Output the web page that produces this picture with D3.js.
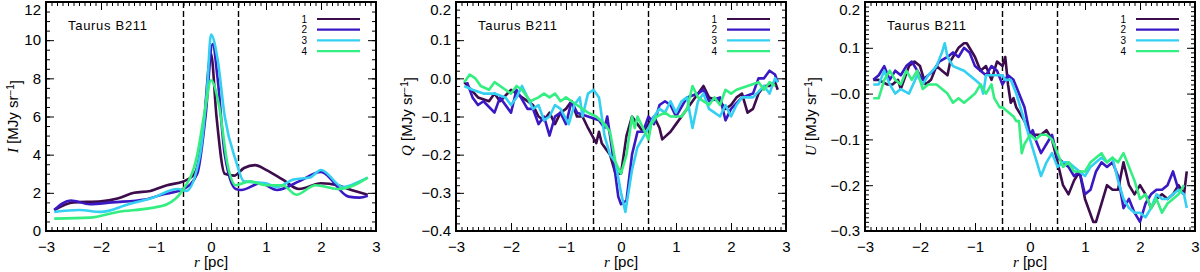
<!DOCTYPE html>
<html>
<head>
<meta charset="utf-8">
<script src="https://cdn.jsdelivr.net/npm/d3@7"></script>
<style>
  body { margin: 0; background: #fff; }
  svg { display: block; }
</style>
</head>
<body>
<div id="chart"></div>
<script>
// Canvas size
var width = 1200;
var height = 272;

// Series colours and names (legend)
var seriesNames = ["1", "2", "3", "4"];
var seriesColors = ["#3d0c4c", "#3a18c4", "#33d0f2", "#33ee80"];

// Regions of the filament crest
var crestLines = [-0.5, 0.5];

// Intensity I, [r, value] pairs
var iSeries1 = [[-2.85,1.1],[-2.5,1.5],[-2.0,1.55],[-1.7,1.7],[-1.4,2.0],[-1.1,2.1],[-0.8,2.4],[-0.5,2.6],[-0.3,3.0],[-0.15,5.0],[0.0,9.3],[0.1,6.0],[0.25,3.0],[0.42,2.9],[0.6,3.3],[0.8,3.45],[1.0,3.2],[1.3,2.7],[1.6,2.2],[2.0,2.5],[2.3,2.4],[2.5,2.2],[2.85,1.9]];
var iSeries2 = [[-2.85,1.1],[-2.55,1.6],[-2.2,1.4],[-1.8,1.5],[-1.2,1.65],[-0.9,1.9],[-0.5,2.2],[-0.25,3.0],[-0.1,6.0],[0.03,9.8],[0.12,8.0],[0.25,4.0],[0.45,2.2],[0.55,2.15],[0.9,2.5],[1.2,2.15],[1.6,2.6],[2.0,3.1],[2.5,1.8],[2.7,1.75],[2.85,1.85]];
var iSeries3 = [[-2.85,1.0],[-2.4,1.1],[-2.0,1.0],[-1.5,1.4],[-1.1,1.7],[-0.6,2.2],[-0.45,2.1],[-0.2,4.0],[-0.07,7.5],[0.0,10.3],[0.12,9.0],[0.25,6.0],[0.45,3.7],[0.6,2.6],[1.0,2.5],[1.2,2.3],[1.5,2.7],[1.8,2.8],[2.0,3.2],[2.4,2.3],[2.7,2.6],[2.85,2.8]];
var iSeries4 = [[-2.85,0.65],[-2.2,0.7],[-1.7,1.0],[-1.1,1.2],[-0.8,1.4],[-0.55,2.0],[-0.25,4.0],[-0.1,6.5],[0.0,7.9],[0.15,6.5],[0.3,3.5],[0.45,2.4],[0.7,2.6],[1.0,2.4],[1.3,2.4],[1.55,1.9],[1.9,2.4],[2.3,2.2],[2.6,2.4],[2.85,2.8]];

// Stokes Q
var qSeries1 = [[-2.85,-0.01],[-2.6,-0.05],[-2.4,-0.06],[-2.3,-0.04],[-2.2,-0.06],[-2.0,-0.03],[-1.8,-0.05],[-1.6,-0.07],[-1.5,-0.1],[-1.4,-0.11],[-1.3,-0.09],[-1.2,-0.12],[-1.1,-0.09],[-1.0,-0.08],[-0.9,-0.06],[-0.8,-0.1],[-0.7,-0.1],[-0.6,-0.13],[-0.45,-0.17],[-0.4,-0.14],[-0.35,-0.17],[-0.2,-0.2],[-0.1,-0.25],[0.0,-0.25],[0.1,-0.15],[0.2,-0.1],[0.3,-0.12],[0.4,-0.14],[0.5,-0.12],[0.6,-0.1],[0.7,-0.13],[0.75,-0.16],[0.9,-0.14],[1.0,-0.12],[1.1,-0.1],[1.3,-0.06],[1.5,-0.02],[1.6,-0.05],[1.8,-0.06],[1.9,-0.08],[2.0,-0.07],[2.1,-0.05],[2.2,-0.04],[2.3,-0.09],[2.4,-0.08],[2.5,-0.04],[2.6,-0.02],[2.7,-0.02],[2.8,-0.01],[2.85,-0.03]];
var qSeries2 = [[-2.8,-0.01],[-2.7,-0.05],[-2.6,-0.07],[-2.5,-0.06],[-2.3,-0.09],[-2.2,-0.05],[-2.0,-0.09],[-1.9,-0.03],[-1.7,-0.08],[-1.6,-0.08],[-1.5,-0.12],[-1.4,-0.1],[-1.3,-0.15],[-1.2,-0.1],[-1.1,-0.09],[-1.0,-0.12],[-0.9,-0.06],[-0.8,-0.09],[-0.6,-0.1],[-0.4,-0.11],[-0.3,-0.13],[-0.25,-0.1],[-0.15,-0.2],[-0.05,-0.31],[0.0,-0.33],[0.1,-0.32],[0.2,-0.2],[0.3,-0.14],[0.4,-0.14],[0.5,-0.1],[0.6,-0.12],[0.7,-0.07],[0.8,-0.06],[0.9,-0.07],[1.0,-0.1],[1.2,-0.05],[1.4,-0.04],[1.5,-0.03],[1.6,-0.06],[1.8,-0.05],[1.9,-0.11],[2.0,-0.08],[2.2,-0.05],[2.4,-0.04],[2.5,0.0],[2.6,0.0],[2.7,0.02],[2.8,0.01],[2.85,-0.01]];
var qSeries3 = [[-2.85,-0.02],[-2.7,-0.03],[-2.5,-0.04],[-2.3,-0.04],[-2.1,-0.05],[-2.0,-0.07],[-1.9,-0.05],[-1.8,-0.02],[-1.6,-0.08],[-1.5,-0.07],[-1.4,-0.11],[-1.3,-0.1],[-1.2,-0.07],[-1.1,-0.08],[-0.95,-0.12],[-0.85,-0.07],[-0.75,-0.05],[-0.7,-0.1],[-0.6,-0.04],[-0.5,-0.03],[-0.4,-0.05],[-0.3,-0.15],[-0.2,-0.2],[-0.1,-0.22],[0.0,-0.3],[0.08,-0.35],[0.2,-0.24],[0.3,-0.18],[0.5,-0.13],[0.6,-0.1],[0.7,-0.08],[0.8,-0.09],[0.9,-0.06],[1.0,-0.09],[1.1,-0.06],[1.2,-0.05],[1.3,-0.13],[1.4,-0.06],[1.5,-0.04],[1.6,-0.08],[1.7,-0.09],[1.8,-0.1],[1.9,-0.07],[2.0,-0.1],[2.1,-0.07],[2.2,-0.05],[2.4,-0.05],[2.6,-0.02],[2.7,-0.04],[2.8,0.0],[2.85,-0.01]];
var qSeries4 = [[-2.85,-0.01],[-2.75,0.01],[-2.65,0.0],[-2.55,-0.02],[-2.4,-0.03],[-2.3,-0.01],[-2.1,-0.03],[-2.0,-0.04],[-1.9,-0.02],[-1.8,-0.03],[-1.65,-0.06],[-1.5,-0.05],[-1.4,-0.04],[-1.3,-0.05],[-1.2,-0.04],[-1.1,-0.06],[-1.0,-0.05],[-0.9,-0.06],[-0.8,-0.07],[-0.6,-0.09],[-0.45,-0.1],[-0.3,-0.12],[-0.2,-0.14],[-0.1,-0.22],[0.0,-0.25],[0.1,-0.2],[0.2,-0.1],[0.25,-0.13],[0.3,-0.1],[0.4,-0.13],[0.5,-0.16],[0.55,-0.12],[0.65,-0.1],[0.8,-0.09],[0.9,-0.1],[1.1,-0.1],[1.2,-0.08],[1.3,-0.02],[1.4,-0.05],[1.6,-0.07],[1.7,-0.05],[1.8,-0.07],[1.9,-0.03],[2.0,-0.04],[2.1,-0.03],[2.3,-0.02],[2.5,-0.01],[2.6,-0.03],[2.7,-0.01],[2.8,-0.02]];

// Stokes U
var uSeries1 = [[-2.85,0.03],[-2.75,0.03],[-2.6,0.02],[-2.5,0.02],[-2.4,0.03],[-2.35,0.01],[-2.2,0.06],[-2.1,0.07],[-2.0,0.06],[-1.9,0.02],[-1.8,0.03],[-1.7,0.06],[-1.6,0.05],[-1.5,0.04],[-1.45,0.07],[-1.3,0.1],[-1.2,0.11],[-1.15,0.11],[-1.0,0.08],[-0.9,0.05],[-0.8,0.06],[-0.7,0.03],[-0.6,0.07],[-0.5,0.06],[-0.45,0.08],[-0.4,0.02],[-0.35,-0.02],[-0.3,-0.01],[-0.25,-0.03],[-0.2,-0.04],[-0.1,-0.06],[0.0,-0.09],[0.1,-0.09],[0.2,-0.09],[0.3,-0.08],[0.4,-0.1],[0.5,-0.15],[0.6,-0.2],[0.7,-0.22],[0.8,-0.19],[0.9,-0.17],[1.0,-0.23],[1.15,-0.28],[1.2,-0.28],[1.3,-0.24],[1.4,-0.2],[1.5,-0.21],[1.6,-0.21],[1.7,-0.15],[1.8,-0.2],[1.9,-0.22],[2.0,-0.2],[2.1,-0.22],[2.2,-0.25],[2.3,-0.23],[2.4,-0.22],[2.5,-0.23],[2.6,-0.22],[2.7,-0.2],[2.8,-0.22],[2.85,-0.17]];
var uSeries2 = [[-2.85,0.03],[-2.75,0.04],[-2.65,0.06],[-2.55,0.03],[-2.45,0.05],[-2.35,0.04],[-2.25,0.06],[-2.15,0.07],[-2.05,0.05],[-1.95,0.03],[-1.85,0.04],[-1.75,0.05],[-1.65,0.07],[-1.5,0.08],[-1.4,0.09],[-1.3,0.08],[-1.2,0.1],[-1.1,0.09],[-1.0,0.06],[-0.9,0.05],[-0.8,0.04],[-0.7,0.06],[-0.6,0.05],[-0.5,0.02],[-0.4,0.04],[-0.3,0.03],[-0.2,0.0],[-0.1,-0.03],[0.0,-0.09],[0.05,-0.08],[0.1,-0.1],[0.2,-0.13],[0.3,-0.11],[0.4,-0.09],[0.5,-0.14],[0.7,-0.16],[0.8,-0.18],[0.9,-0.17],[1.0,-0.22],[1.1,-0.21],[1.2,-0.17],[1.3,-0.15],[1.4,-0.16],[1.5,-0.15],[1.6,-0.18],[1.7,-0.25],[1.8,-0.23],[1.9,-0.26],[2.0,-0.28],[2.1,-0.24],[2.2,-0.22],[2.3,-0.21],[2.4,-0.21],[2.5,-0.2],[2.6,-0.17],[2.7,-0.21],[2.8,-0.22]];
var uSeries3 = [[-2.85,0.02],[-2.75,0.02],[-2.65,0.05],[-2.55,0.02],[-2.45,0.0],[-2.35,0.01],[-2.2,0.0],[-2.05,0.04],[-1.95,0.02],[-1.85,0.04],[-1.7,0.06],[-1.6,0.09],[-1.55,0.11],[-1.5,0.08],[-1.4,0.06],[-1.2,0.05],[-1.0,0.03],[-0.9,0.02],[-0.85,0.0],[-0.8,0.04],[-0.6,0.04],[-0.5,0.04],[-0.45,0.03],[-0.35,0.03],[-0.25,0.0],[-0.15,-0.04],[-0.05,-0.08],[0.0,-0.1],[0.1,-0.14],[0.2,-0.18],[0.3,-0.15],[0.4,-0.13],[0.5,-0.16],[0.6,-0.15],[0.7,-0.15],[0.8,-0.16],[0.9,-0.17],[1.0,-0.18],[1.1,-0.16],[1.2,-0.15],[1.3,-0.14],[1.4,-0.15],[1.5,-0.14],[1.6,-0.19],[1.7,-0.23],[1.8,-0.25],[1.9,-0.26],[2.0,-0.26],[2.1,-0.27],[2.2,-0.25],[2.3,-0.22],[2.4,-0.23],[2.5,-0.23],[2.6,-0.22],[2.7,-0.21],[2.8,-0.22],[2.85,-0.25]];
var uSeries4 = [[-2.85,-0.01],[-2.75,-0.01],[-2.65,0.03],[-2.55,0.05],[-2.45,0.03],[-2.35,0.02],[-2.25,0.05],[-2.15,0.03],[-2.05,0.05],[-1.95,0.01],[-1.85,0.02],[-1.7,0.02],[-1.6,0.01],[-1.5,0.0],[-1.4,-0.02],[-1.3,-0.01],[-1.2,-0.02],[-1.1,-0.01],[-1.0,0.0],[-0.9,0.02],[-0.8,0.0],[-0.7,0.02],[-0.65,-0.01],[-0.55,-0.03],[-0.5,-0.03],[-0.4,-0.04],[-0.3,-0.05],[-0.25,-0.06],[-0.2,-0.06],[-0.15,-0.13],[-0.1,-0.11],[0.0,-0.09],[0.1,-0.1],[0.2,-0.09],[0.3,-0.09],[0.4,-0.1],[0.5,-0.13],[0.6,-0.16],[0.7,-0.15],[0.8,-0.17],[0.9,-0.17],[1.0,-0.17],[1.1,-0.15],[1.2,-0.14],[1.3,-0.13],[1.4,-0.15],[1.5,-0.14],[1.6,-0.15],[1.7,-0.13],[1.8,-0.16],[1.9,-0.19],[2.0,-0.23],[2.1,-0.22],[2.2,-0.25],[2.3,-0.23],[2.4,-0.26],[2.5,-0.24],[2.6,-0.23],[2.7,-0.22],[2.8,-0.2]];

// Tick values
var xTicks = [-3, -2, -1, 0, 1, 2, 3];
var iTicks = [0, 2, 4, 6, 8, 10, 12];
var qTicks = [-0.4, -0.3, -0.2, -0.1, 0.0, 0.1, 0.2];
var uTicks = [-0.3, -0.2, -0.1, 0.0, 0.1, 0.2];
var qTickLabels = ["\u22120.4", "\u22120.3", "\u22120.2", "\u22120.1", "0.0", "0.1", "0.2"];
var uTickLabels = ["\u22120.3", "\u22120.2", "\u22120.1", "\u22120.0", "0.1", "0.2"];

var panels = [
  { left: 46, series: [iSeries1, iSeries2, iSeries3, iSeries4], domain: [0, 12], ticks: iTicks,
    labels: iTicks.map(String), minor: 0.5, sym: "I", smooth: true, titleX: 13 },
  { left: 456, series: [qSeries1, qSeries2, qSeries3, qSeries4], domain: [-0.4, 0.2], ticks: qTicks,
    labels: qTickLabels, minor: 0.02, sym: "Q", smooth: false, titleX: 407 },
  { left: 865, series: [uSeries1, uSeries2, uSeries3, uSeries4], domain: [-0.3, 0.2], ticks: uTicks,
    labels: uTickLabels, minor: 0.01, sym: "U", smooth: false, titleX: 811 }
];

var plotW = 330;
var plotTop = 2;
var plotBottom = 231;

var svg = d3.select("#chart").append("svg")
    .attr("width", width)
    .attr("height", height)
    .style("font-family", "Liberation Sans, Arial, sans-serif");

panels.forEach(function(p, pi) {
  var x = d3.scaleLinear().domain([-3, 3]).range([p.left, p.left + plotW]);
  var y = d3.scaleLinear().domain(p.domain).range([plotBottom, plotTop]);

  var g = svg.append("g").attr("class", "panel");

  var clipId = "clip" + pi;
  g.append("clipPath").attr("id", clipId).append("rect")
    .attr("x", p.left).attr("y", plotTop).attr("width", plotW).attr("height", plotBottom - plotTop);

  // Minor tick values
  var xMinor = d3.range(-30, 31).map(function(d) { return d / 10; });
  var nMinor = Math.round((p.domain[1] - p.domain[0]) / p.minor);
  var yMinor = d3.range(0, nMinor + 1).map(function(i) { return p.domain[0] + i * p.minor; });

  // Axes: ticks pointing inward on all four sides
  var axB = d3.axisBottom(x).tickValues(xTicks).tickSize(-8).tickPadding(10).tickFormat(function(d) { return d < 0 ? "\u2212" + Math.abs(d) : d; });
  var axBm = d3.axisBottom(x).tickValues(xMinor).tickSize(-4).tickFormat("");
  var axT = d3.axisTop(x).tickValues(xTicks).tickSize(-8).tickFormat("");
  var axTm = d3.axisTop(x).tickValues(xMinor).tickSize(-4).tickFormat("");
  var axL = d3.axisLeft(y).tickValues(p.ticks).tickSize(-8).tickPadding(5).tickFormat(function(d, i) { return p.labels[i]; });
  var axLm = d3.axisLeft(y).tickValues(yMinor).tickSize(-4).tickFormat("");
  var axR = d3.axisRight(y).tickValues(p.ticks).tickSize(-8).tickFormat("");
  var axRm = d3.axisRight(y).tickValues(yMinor).tickSize(-4).tickFormat("");

  [[axBm, "translate(0," + plotBottom + ")"], [axTm, "translate(0," + plotTop + ")"],
   [axLm, "translate(" + p.left + ",0)"], [axRm, "translate(" + (p.left + plotW) + ",0)"],
   [axB, "translate(0," + plotBottom + ")"], [axT, "translate(0," + plotTop + ")"],
   [axL, "translate(" + p.left + ",0)"], [axR, "translate(" + (p.left + plotW) + ",0)"]]
    .forEach(function(a) {
      var ag = g.append("g").attr("transform", a[1]).call(a[0]);
      ag.select(".domain").remove();
      ag.selectAll("line").attr("stroke", "#000").attr("stroke-width", 1);
      ag.selectAll("text").attr("fill", "#000").style("font-size", "15px").style("font-family", "Liberation Sans, Arial, sans-serif");
    });

  // Keep the topmost y label inside the picture, as in the reference
  g.selectAll("text").filter(function(d) { return d === p.domain[1]; })
    .attr("dy", "0.85em");

  // Frame
  g.append("rect")
    .attr("x", p.left).attr("y", plotTop)
    .attr("width", plotW).attr("height", plotBottom - plotTop)
    .attr("fill", "none").attr("stroke", "#000").attr("stroke-width", 2);

  // Dashed crest boundaries
  g.selectAll(".crest").data(crestLines).enter().append("line")
    .attr("class", "crest")
    .attr("x1", function(d) { return x(d); }).attr("x2", function(d) { return x(d); })
    .attr("y1", plotTop).attr("y2", plotBottom)
    .attr("stroke", "#000").attr("stroke-width", 1.4)
    .attr("stroke-dasharray", "6,3");

  // Profiles
  var line = d3.line()
    .x(function(d) { return x(d[0]); })
    .y(function(d) { return y(d[1]); })
    .curve(p.smooth ? d3.curveMonotoneX : d3.curveLinear);

  g.append("g").attr("clip-path", "url(#" + clipId + ")")
    .selectAll("path").data(p.series).enter().append("path")
    .attr("d", line)
    .attr("fill", "none")
    .attr("stroke", function(d, i) { return seriesColors[i]; })
    .attr("stroke-width", 2.6)
    .attr("stroke-linejoin", "round");

  // Field name
  g.append("text")
    .attr("x", p.left + 22).attr("y", 30)
    .style("font-size", "13px").style("letter-spacing", "0.7px")
    .text("Taurus B211");

  // Legend
  var leg = g.selectAll(".leg").data(seriesNames).enter().append("g")
    .attr("transform", function(d, i) { return "translate(0," + (19 + i * 10.7) + ")"; });
  leg.append("text")
    .attr("x", p.left + plotW - 69).attr("y", 3.5)
    .attr("text-anchor", "end")
    .style("font-size", "10px")
    .text(function(d) { return d; });
  leg.append("line")
    .attr("x1", p.left + plotW - 59).attr("x2", p.left + plotW - 16)
    .attr("stroke", function(d, i) { return seriesColors[i]; })
    .attr("stroke-width", 2.2);

  // X title
  var xt = g.append("text")
    .attr("x", x(0)).attr("y", 267)
    .attr("text-anchor", "middle")
    .style("font-size", "15px");
  xt.append("tspan").style("font-family", "Liberation Serif, serif").style("font-style", "italic").text("r");
  xt.append("tspan").text(" [pc]");

  // Y title
  var yt = g.append("text")
    .attr("transform", "translate(" + p.titleX + "," + ((plotTop + plotBottom) / 2) + ") rotate(-90)")
    .attr("text-anchor", "middle")
    .attr("dy", "0.35em")
    .style("font-size", "15px");
  yt.append("tspan").style("font-family", "Liberation Serif, serif").style("font-style", "italic").text(p.sym);
  yt.append("tspan").text(" [MJy sr");
  yt.append("tspan").attr("dy", "-0.45em").style("font-size", "10px").text("\u22121");
  yt.append("tspan").attr("dy", "0.45em").text("]");
});
</script>
</body>
</html>
